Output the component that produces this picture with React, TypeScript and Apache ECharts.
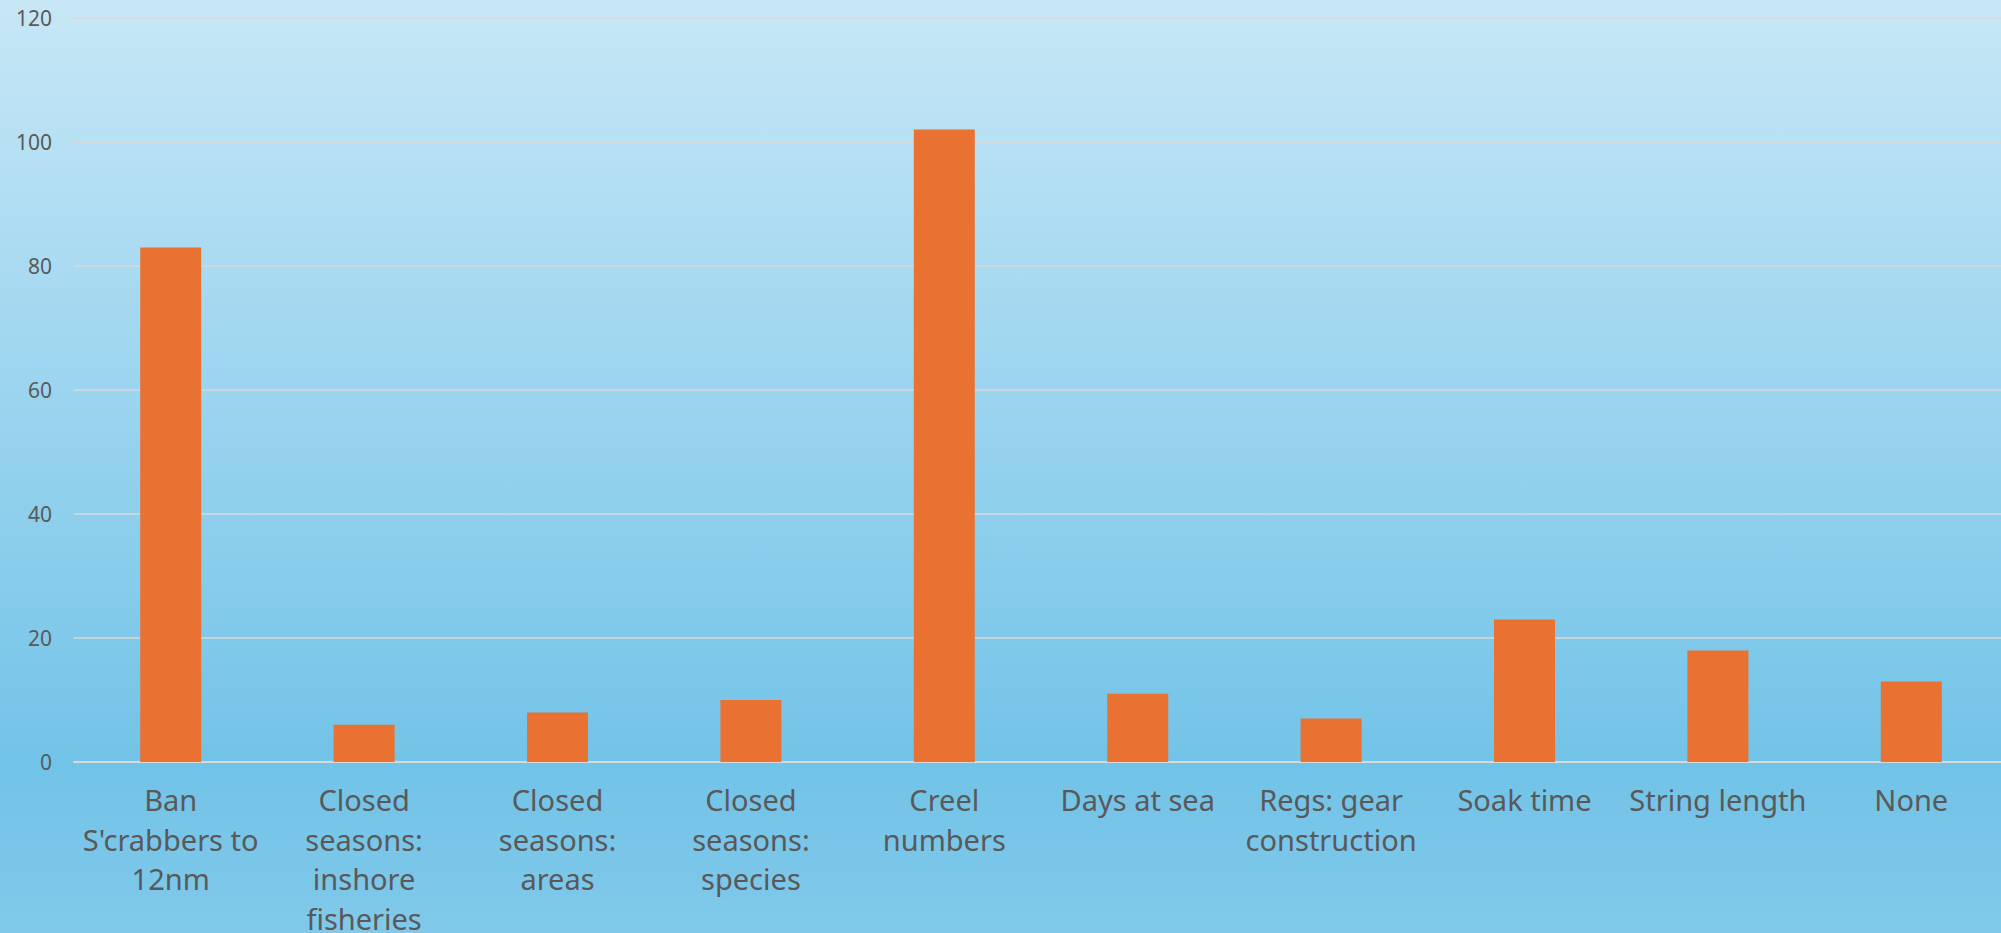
import React, { useEffect, useRef } from "react";
import * as echarts from "echarts";

const categories: string[] = [
  "Ban\nS'crabbers to\n12nm",
  "Closed\nseasons:\ninshore\nfisheries",
  "Closed\nseasons:\nareas",
  "Closed\nseasons:\nspecies",
  "Creel\nnumbers",
  "Days at sea",
  "Regs: gear\nconstruction",
  "Soak time",
  "String length",
  "None",
];

const counts: number[] = [83, 6, 8, 10, 102, 11, 7, 23, 18, 13];

const yTicks = { min: 0, max: 120, interval: 20 };

export default function App() {
  const ref = useRef<HTMLDivElement>(null);

  useEffect(() => {
    if (!ref.current) return;
    const chart = echarts.init(ref.current, undefined, { renderer: "svg" });
    chart.setOption({
      animation: false,
      backgroundColor: new echarts.graphic.LinearGradient(0, 0, 0, 1, [
        { offset: 0, color: "#C7E7F6" },
        { offset: 0.82, color: "#72C3E8" },
        { offset: 1, color: "#80C9EA" },
      ]),
      grid: {
        left: 74,
        top: 18,
        bottom: 171,
        width: 1934,
        containLabel: false,
        outerBoundsMode: "none",
      },
      xAxis: {
        type: "category",
        data: categories,
        axisLine: { show: true, lineStyle: { color: "#D9D9D9", width: 2 } },
        axisTick: { show: false },
        axisLabel: {
          color: "#595959",
          fontSize: 29,
          lineHeight: 39.5,
          margin: 18,
          fontFamily: "Noto Sans",
          interval: 0,
          align: "center",
        },
      },
      yAxis: {
        type: "value",
        min: yTicks.min,
        max: yTicks.max,
        interval: yTicks.interval,
        axisLine: { show: false },
        axisTick: { show: false },
        splitLine: { lineStyle: { color: "#D9D9D9", width: 1.5 } },
        axisLabel: {
          color: "#595959",
          fontSize: 21,
          margin: 22,
          fontFamily: "Noto Sans",
        },
      },
      series: [
        {
          type: "bar",
          data: counts,
          barWidth: 61,
          itemStyle: { color: "#E97132" },
        },
      ],
    });
    return () => chart.dispose();
  }, []);

  return (
    <div
      ref={ref}
      style={{ position: "fixed", left: 0, top: 0, width: 2001, height: 933 }}
    />
  );
}
